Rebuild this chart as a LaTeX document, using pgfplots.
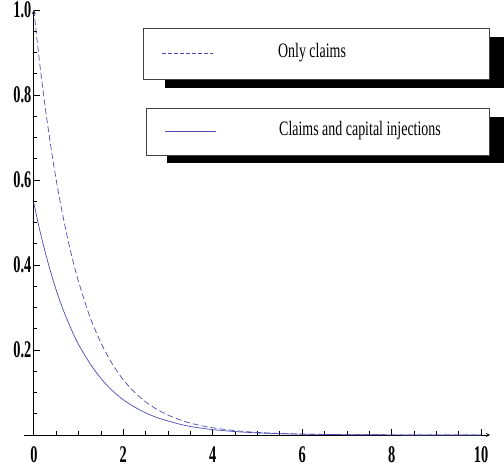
\documentclass[border=0pt]{standalone}
\usepackage{pgfplots}
\pgfplotsset{compat=1.18}
\usepackage{fontspec}
\setmainfont{Liberation Serif}[FakeStretch=0.68]
\newfontfamily\tickfam{Liberation Serif}[FakeStretch=0.6]
\definecolor{mblue}{rgb}{0.30,0.30,0.70}
\newcommand\tf[1]{{\tickfam\fontsize{24}{24}\selectfont\bfseries #1}}
\newcommand\legfont{\fontsize{20.6}{21}\selectfont}
\begin{document}
\begin{tikzpicture}[x=1bp,y=1bp]
\begin{axis}[
  at={(24bp,33bp)}, anchor=south west,
  scale only axis, width=466bp, height=425bp,
  xmin=-0.22, xmax=10.2, ymin=0, ymax=1,
  axis lines=middle,
  axis line style={line width=0.8bp},
  hide obscured x ticks=false, hide obscured y ticks=false,
  tick align=inside,
  xtick={0,2,4,6,8,10}, ytick={0,0.2,0.4,0.6,0.8,1.0},
  xticklabels={\tf{0},\tf{2},\tf{4},\tf{6},\tf{8},\tf{10}},
  yticklabels={,\tf{0.2},\tf{0.4},\tf{0.6},\tf{0.8},\tf{1.0}},
  minor x tick num=3, minor y tick num=3,
  major tick length=6bp, minor tick length=3.5bp,
  tick style={black, line width=0.8bp},
  xticklabel style={yshift=-8bp},
  yticklabel style={xshift=1bp},
  clip=false,
]
\addplot[mblue, line width=0.7bp, dash pattern=on 6bp off 3bp, smooth] coordinates {
(0,1.000) (0.125,0.880) (0.25,0.775) (0.375,0.682) (0.5,0.600) (0.625,0.529)
(0.75,0.465) (0.875,0.410) (1.0,0.361) (1.25,0.279) (1.5,0.217) (1.75,0.168)
(2.0,0.130) (2.25,0.1008) (2.5,0.078) (2.75,0.0605) (3.0,0.047) (3.25,0.0363)
(3.5,0.028) (3.75,0.0218) (4.0,0.017) (4.5,0.0102) (5,0.0061) (5.5,0.0037)
(6,0.0022) (7,0.0008) (8,0.0003) (9,0.0001) (10,0.00004)};
\addplot[mblue, line width=0.7bp, smooth] coordinates {
(0,0.546) (0.125,0.485) (0.25,0.432) (0.375,0.384) (0.5,0.341) (0.625,0.303)
(0.75,0.270) (0.875,0.240) (1.0,0.213) (1.25,0.169) (1.5,0.133) (1.75,0.105)
(2.0,0.083) (2.25,0.0659) (2.5,0.052) (2.75,0.0412) (3.0,0.033) (3.25,0.0257)
(3.5,0.020) (3.75,0.0161) (4.0,0.0127) (4.5,0.0080) (5,0.0050) (5.5,0.0031)
(6,0.0019) (7,0.0008) (8,0.0003) (9,0.0001) (10,0.00005)};
\end{axis}
% legend boxes with shadows
\fill[black] (165,380) rectangle (515,431);
\draw[fill=white, draw=black!75, line width=0.8bp] (143,389) rectangle (489,440);
\draw[mblue, line width=0.7bp, dash pattern=on 3.5bp off 2.5bp] (162,415) -- (213,415);
\node[font=\legfont] at (312,415) {Only claims};
\fill[black] (167,305) rectangle (515,351);
\draw[fill=white, draw=black!75, line width=0.8bp] (146,313) rectangle (489,360);
\draw[mblue, line width=0.7bp] (165,337) -- (216,337);
\node[font=\legfont] at (360,337) {Claims and capital injections};
\pgfresetboundingbox
\useasboundingbox (0,0) rectangle (504,468);
\end{tikzpicture}
\end{document}
